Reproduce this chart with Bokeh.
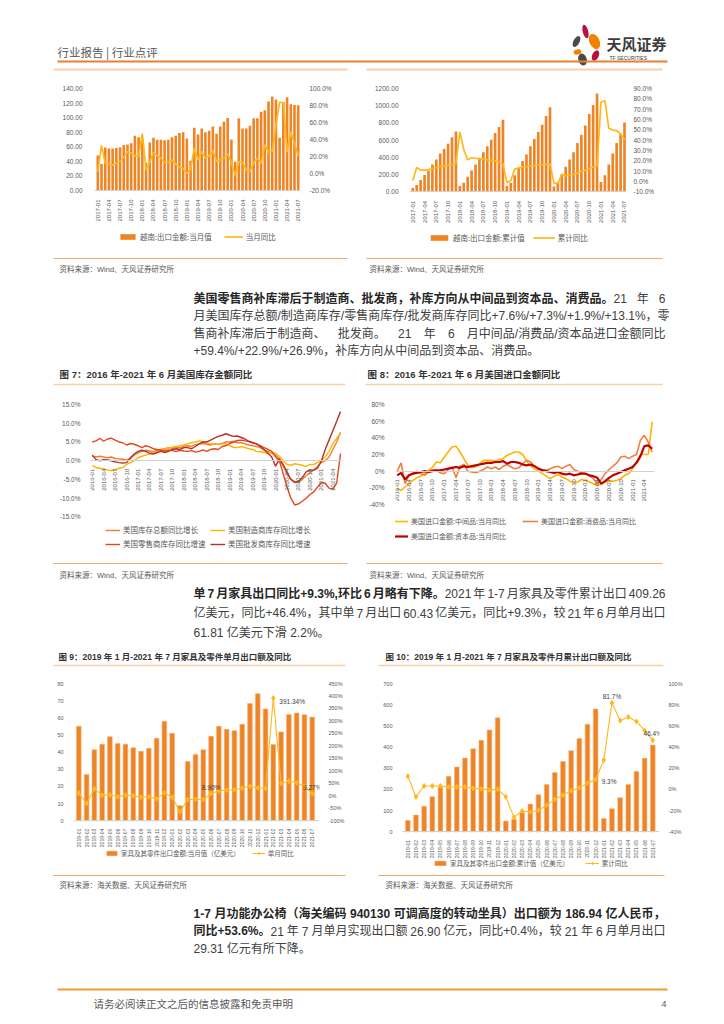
import math
from bokeh.plotting import figure
from bokeh.models import (Range1d, LinearAxis, FixedTicker, Legend, LegendItem,
                          PrintfTickFormatter)
from bokeh.layouts import column, row
from bokeh.embed import file_html
from bokeh.resources import INLINE
from bokeh.core.properties import value

MIX = "Liberation Sans, Noto Sans CJK SC"
CJK = "Noto Sans CJK SC"
GRAY = "#595959"
BAR = "#EF8424"
GOLD = "#FFB81C"

# ------------------------------------------------------------------ data
viet_months = [f"{y}-{m:02d}" for y in range(2017, 2022) for m in range(1, 13)][:55]
viet_month_val = [48, 36.5, 59, 57.5, 57.5, 58.5, 59.5, 62.5, 63, 65, 75, 73,
                  70, 38, 66, 72.5, 69.5, 69.5, 69, 69.5, 73, 75, 79, 80,
                  71.5, 41, 86, 77, 85, 80, 82, 88, 78, 88, 94.5, 99.5,
                  70, 39.5, 99, 85, 85, 89, 99, 99, 108, 110, 122, 129,
                  125, 72.5, 121, 128, 118.5, 117.5, 117]
viet_month_yoy = [2, 33, 12, 11, 10, 12, 14, 19, 26, 24, 21, 20,
                  47, 4, 13, 25, 21, 18, 13, 13, 16, 11, 8, 6,
                  0, 5, 30, 16, 26, 18, 21, 27, 14, 16, 18, 23,
                  13, -2, 14, 13, 4, 2, 13, 18, 12, 34, 25, 26,
                  57, 84, 83, 25, 49, 35, 21]
viet_cum_val = [46, 80, 138, 196, 249, 318, 376, 445, 498, 560, 633, 702,
                69, 107, 176, 249, 318, 395, 460, 529, 606, 683, 752, 836,
                69, 107, 192, 280, 357, 433, 529, 614, 694, 778, 882, 982,
                61, 115, 203, 291, 376, 460, 567, 663, 771, 905, 1008, 1143,
                115, 192, 318, 445, 567, 675, 805]
viet_cum_yoy = [1, 13.5, 11, 11, 11.5, 12.6, 13.5, 14.5, 15.1, 15.8, 16.4, 17.4,
                48, 31, 21, 23, 22.5, 22, 21.5, 21, 20.5, 20, 19, 17,
                -1, 1, 12, 13, 14, 14.5, 15, 15.5, 16, 16, 16.5, 17,
                -1.5, -2, 7, 5.7, 6.3, 7, 8.2, 9.5, 11, 12.6, 13.9, 15.1,
                76.7, 78.2, 51.4, 49.8, 49.2, 46, 40.4]

us_months = [f"{y}-{m:02d}" for y in range(2016, 2022) for m in range(1, 13)][:66]
inv_total = [1.3, 1.0, 1.2, 1.0, 0.8, 1.0, 0.6, 0.5, 0.4, 0.2, 0.5, 1.5,
             2.0, 2.5, 2.8, 2.6, 2.4, 2.8, 3.0, 3.2, 3.5, 3.3, 3.6, 3.5,
             3.8, 4.0, 3.8, 4.3, 4.5, 4.6, 4.4, 4.2, 4.5, 4.4, 4.6, 5.0,
             5.0, 5.2, 4.8, 4.8, 4.5, 4.2, 4.0, 3.8, 3.5, 2.8, 2.5, 2.0,
             1.5, 0.5, -1.5, -3.5, -4.8, -5.6, -5.8, -5.0, -4.0, -3.2, -2.5, -1.5,
             -0.5, 0.0, 1.0, 3.0, 5.0, 7.6]
inv_manu = [-1.3, -1.8, -2.0, -2.2, -2.5, -2.6, -2.4, -2.0, -1.8, -1.0, -0.5, 0.0,
            0.8, 1.2, 1.5, 1.8, 2.2, 2.5, 2.8, 3.0, 3.4, 3.6, 3.8, 4.0,
            4.2, 4.5, 4.8, 5.0, 5.3, 5.0, 4.8, 4.5, 4.5, 4.3, 4.5, 4.5,
            4.0, 3.6, 3.5, 3.8, 3.5, 3.2, 3.0, 2.5, 2.4, 2.2, 2.0, 2.2,
            2.0, 1.2, 0.0, -1.0, -1.2, -0.8, -1.0, -1.2, -1.5, -1.0, -1.0, -0.5,
            0.0, 1.0, 2.5, 4.5, 6.0, 7.3]
inv_retail = [5.0, 5.3, 6.0, 5.2, 5.8, 6.0, 5.5, 5.0, 4.8, 4.2, 4.6, 4.4,
              4.0, 3.5, 4.0, 3.7, 3.2, 3.0, 2.8, 2.6, 2.9, 2.7, 2.5, 2.8,
              2.6, 2.5, 2.7, 2.3, 2.5, 2.9, 2.5, 3.0, 3.2, 3.0, 3.8, 4.0,
              4.6, 5.0, 5.4, 5.5, 5.3, 5.1, 4.8, 4.5, 4.0, 3.5, 3.0, 2.5,
              1.0, 0.0, -3.5, -7.0, -10.0, -11.8, -11.5, -10.8, -10.0, -9.0, -8.3, -7.0,
              -5.8, -6.0, -7.3, -7.6, -6.0, 1.9]
inv_whole = [1.5, 0.3, 0.0, 0.3, 0.2, 0.0, -0.3, -0.5, -0.6, -0.5, 0.8, 1.8,
             2.5, 2.8, 2.5, 2.0, 1.8, 2.2, 2.5, 2.2, 2.5, 3.0, 3.2, 3.0,
             3.5, 3.5, 3.2, 3.8, 4.5, 5.0, 5.0, 5.5, 6.0, 6.5, 6.8, 7.2,
             6.8, 6.5, 6.6, 6.2, 5.8, 5.2, 4.8, 4.5, 3.8, 3.0, 2.0, 1.0,
             -1.5, 0.5, -1.0, -3.0, -5.0, -5.8, -5.5, -4.5, -3.0, -2.5, -2.5, -2.0,
             0.0, 3.0, 5.5, 8.0, 10.5, 13.1]

imp_inter = [-21, -23, -19, -15, -11, -8, -6, -3, 1, 5, 11, 10,
             17, 23, 29, 30, 23, 15, 7, 4, 5, 9, 13, 13,
             13, 12, 14, 15, 19, 21, 23, 23, 20, 12, 6, 3,
             0, -3, -6, -9, -6, -4, -7, -9, -12, -14, -13, -10,
             -11, -13, -15, -17, -16, -13, -12, -12, -11, -9, -5, -3,
             3, 11, 20, 20, 20, 59.4]
imp_cons = [0, 10, -15, -5, -2, 0, -3, -5, -1, 2, 1, -2,
            -3, 2, 5, -8, 6, 8, 0, -1, -2, 0, 2, 5,
            3, 5, 2, 6, 8, 5, 3, 4, 9, 13, 11, 6,
            3, 2, 1, 3, 5, 6, 3, 6, 8, 2, 0, -2,
            -3, -6, -9, -15, -10, -3, 2, 6, 10, 17, 18, 15,
            18, 20, 37, 43, 35, 22.9]
imp_cap = [-5, -2, -10, -5, -3, -2, -1, 0, -1, 0, 1, 1,
           2, 3, 4, 5, 4, 6, 5, 6, 7, 8, 9, 10,
           10, 11, 11, 12, 9, 11, 11, 10, 8, 7, 8, 6,
           3, 1, 0, -1, -2, -1, -3, -4, -3, -5, -4, -3,
           -3, -5, -6, -8, -15, -12, -8, -5, -3, -1, 1, 3,
           5, 10, 18, 30, 31, 26.9]

fur_months = [f"{y}-{m:02d}" for y in range(2019, 2022) for m in range(1, 13)][:31]
fur_month_val = [55.1, 27.0, 41.4, 44.6, 49.0, 45.1, 44.6, 42.6, 40.5, 42.2, 48.1, 58.0,
                 51.0, 8.8, 34.6, 38.7, 41.4, 49.2, 55.1, 53.3, 52.5, 56.2, 68.3, 74.1,
                 65.2, 44.4, 51.8, 61.9, 62.8, 61.81, 60.43]
fur_month_yoy = [10.7, -30.7, 28.1, 2.7, 4.0, -4.0, 2.7, 0.0, -5.3, -4.0, -12.0, 12.0,
                 -5.3, -64.2, -14.7, -13.4, -14.7, 8.9, 20.1, 22.7, 24.1, 30.7, 38.8, 32.1,
                 29.4, 391.34, 49.5, 58.8, 52.1, 38.8, 9.27]
fur_cum_val = [54, 79, 121, 166, 212, 262, 306, 348, 392, 432, 481, 538,
               51, 60, 91, 131, 175, 224, 280, 332, 383, 440, 508, 580,
               63, 109, 161, 224, 285, 347, 409.26]
fur_cum_yoy = [12.5, -6.9, 3.3, 3.3, 3.3, 2.4, 2.4, 2.4, 1.2, 0.6, -0.6, 0.3,
               -6.9, -26.3, -20.3, -21.2, -19.7, -14.9, -9.3, -5.4, -1.2, 1.5, 6.0, 9.3,
               27.8, 81.7, 65.1, 68.4, 64.2, 55.5, 46.4]
fur_month_label_idx = [25, 17, 30]
fur_month_label_txt = ["391.34%", "8.90%", "9.27%"]
fur_cum_label_idx = [25, 23, 30]
fur_cum_label_txt = ["81.7%", "9.3%", "46.4%"]


# ------------------------------------------------------------------ helpers
def xr_calc(X0, X1, n_last, fl, fr):
    per = n_last / (X1 - X0)
    return (-(X0 - fl) * per, n_last + (fr - X1) * per)


def yr_calc(v_top, top, v_ref, y_ref, bottom):
    per = (v_top - v_ref) / (y_ref - top)
    return (v_top - per * (bottom - top), v_top)


def chart(fx0, fx1, fy0, fy1, fl, fr, ft, xr, yl, ypct=None):
    p = figure(width=fx1 - fx0, height=fy1 - fy0, x_range=Range1d(*xr), y_range=Range1d(*yl),
               output_backend="svg", toolbar_location=None,
               min_border_left=fl - fx0, min_border_right=fx1 - fr,
               min_border_top=ft - fy0, min_border_bottom=0)
    p.outline_line_color = None
    p.grid.visible = False
    if ypct is not None:
        p.extra_y_ranges = {"pct": Range1d(*ypct)}
    return p


def style_axis(ax, size, standoff, ticks, fmt=None, overrides=None):
    ax.ticker = FixedTicker(ticks=ticks)
    if fmt:
        ax.formatter = PrintfTickFormatter(format=fmt)
    if overrides:
        ax.major_label_overrides = overrides
    ax.axis_line_color = None
    ax.major_tick_line_color = None
    ax.minor_tick_line_color = None
    ax.major_label_text_font = MIX
    ax.major_label_text_font_size = f"{size}px"
    ax.major_label_text_color = GRAY
    ax.major_label_standoff = standoff


def x_axis(p, months, step, size, standoff):
    ax = p.xaxis[0]
    ticks = list(range(0, len(months), step))
    style_axis(ax, size, standoff, ticks, overrides={i: months[i] for i in ticks})
    ax.fixed_location = 0
    ax.major_label_orientation = math.pi / 2
    ax.axis_line_color = "#D0D0D0"
    ax.axis_line_width = 1


def right_axis(p, size, standoff, ticks, fmt):
    ax = LinearAxis(y_range_name="pct")
    style_axis(ax, size, standoff, ticks, fmt)
    p.add_layout(ax, "right")


def add_legend(p, items, loc, font_size, **kw):
    lg = Legend(items=[LegendItem(label=l, renderers=r) for l, r in items], location=loc,
                orientation="horizontal", background_fill_alpha=0, border_line_alpha=0,
                padding=0, margin=0, label_text_font=CJK,
                label_text_font_size=f"{font_size}px", label_text_color=GRAY, **kw)
    p.add_layout(lg)


def band(y0, y1):
    p = figure(width=716, height=y1 - y0, x_range=Range1d(0, 716), y_range=Range1d(y1, y0),
               x_axis_type=None, y_axis_type=None, output_backend="svg",
               toolbar_location=None, min_border=0)
    p.outline_line_color = None
    return p


def txt(p, x, y, s, size, color="#404040", bold=False, align="left", font=MIX):
    p.text(x=[x], y=[y], text=[s], text_font=value(font), text_font_size=f"{size}px",
           text_font_style="bold" if bold else "normal", text_color=color,
           text_align=align, text_baseline="middle")


def hline(p, x0, x1, y, color, w):
    p.line(x=[x0, x1], y=[y, y], line_color=color, line_width=w)


ORANGE = "#EE7F2D"
LIGHT = "#F9CFA9"
SRC = "#F4A766"
BODY = "#404040"
BOLD = "#262626"
NARROW = {"%": 0.889, "+": 0.584, ".": 0.278, ",": 0.278, "/": 0.278, "-": 0.333,
          " ": 0.278, ":": 0.278}


def char_w(c, fs):
    if ord(c) >= 0x2E80:
        return fs
    if c.isdigit():
        return 0.556 * fs
    if c in NARROW:
        return NARROW[c] * fs
    if c.isupper():
        return 0.667 * fs
    return 0.556 * fs


def run_w(t, fs):
    return sum(char_w(c, fs) for c in t)


def build_words(runs, punct):
    words = [[]]
    for t, b in runs:
        cur = ""
        for c in t:
            if c == " ":
                if cur:
                    words[-1].append((cur, b))
                    cur = ""
                words.append([])
            else:
                cur += c
                if punct and c in "、，。":
                    words[-1].append((cur, b))
                    cur = ""
                    words.append([])
        if cur:
            words[-1].append((cur, b))
    return [w for w in words if w]


def para_line(p, y, runs, justify=True, x0=193, x1=665, fs=12):
    words = build_words(runs, False)
    widths = [sum(run_w(t, fs) for t, b in w) for w in words]
    n = len(words)
    gap = 0.278 * fs
    if justify and n > 1:
        gap = (x1 - x0 - sum(widths)) / (n - 1)
        if gap > 11:
            words = build_words(runs, True)
            widths = [sum(run_w(t, fs) for t, b in w) for w in words]
            n = len(words)
            gap = (x1 - x0 - sum(widths)) / (n - 1)
    x = x0
    for k, w in enumerate(words):
        if justify and n > 1 and k == n - 1:
            xr = x1
            for t, b in reversed(w):
                txt(p, xr, y, t, fs, BOLD if b else BODY, b, align="right")
                xr -= run_w(t, fs)
        else:
            xx = x
            for t, b in w:
                txt(p, xx, y, t, fs, BOLD if b else BODY, b)
                xx += run_w(t, fs)
        x += widths[k] + gap


# ------------------------------------------------------------------ chart 1
fl, fr, ft = 94, 300, 88
p1 = chart(0, 356, 72, 252, fl, fr, ft, xr_calc(97.3, 297.7, 54, fl, fr),
           yr_calc(140, ft, 0, 190, 252), yr_calc(100, ft, -20, 190, 252))
i1 = list(range(len(viet_month_val)))
b1 = p1.vbar(x=i1, top=viet_month_val, width=0.7, fill_color=BAR, line_color=None)
l1 = p1.line(x=i1, y=viet_month_yoy, y_range_name="pct", line_color=GOLD, line_width=1.7)
style_axis(p1.yaxis[0], 6.5, 6, list(range(0, 141, 20)), "%.2f")
right_axis(p1, 6.5, 3, list(range(-20, 101, 20)), "%.1f%%")
x_axis(p1, viet_months, 3, 6, 3)
add_legend(p1, [("越南:出口金额:当月值", [b1]), ("当月同比", [l1])], (24, 10), 7.5,
           glyph_width=19, glyph_height=7, label_height=7, spacing=12, label_standoff=3)

# ------------------------------------------------------------------ chart 2
fl, fr, ft = 409, 626, 87
p2 = chart(356, 716, 72, 252, fl, fr, ft, xr_calc(412.3, 624, 54, fl, fr),
           yr_calc(1200, ft, 0, 191, 252), yr_calc(90, ft, -10, 191, 252))
i2 = list(range(len(viet_cum_val)))
b2 = p2.vbar(x=i2, top=viet_cum_val, width=0.68, fill_color=BAR, line_color=None)
l2 = p2.line(x=i2, y=viet_cum_yoy, y_range_name="pct", line_color=GOLD, line_width=1.7)
style_axis(p2.yaxis[0], 6.5, 5, list(range(0, 1201, 200)), "%.2f")
right_axis(p2, 6.5, 1, list(range(-10, 91, 10)), "%.1f%%")
x_axis(p2, viet_months, 3, 6, 3)
add_legend(p2, [("越南:出口金额:累计值", [b2]), ("累计同比", [l2])], (19, 9.5), 7.5,
           glyph_width=22, glyph_height=7, label_height=7, spacing=8, label_standoff=3)

# ------------------------------------------------------------------ chart 7
fl, fr, ft = 90, 342, 396
p7 = chart(0, 356, 386, 558, fl, fr, ft, xr_calc(91.7, 340, 65, fl, fr),
           yr_calc(15, ft, -15, 514.3, 558))
i7 = list(range(len(inv_total)))
r7a = p7.line(x=i7, y=inv_total, line_color="#ED7D31", line_width=1.4)
r7b = p7.line(x=i7, y=inv_manu, line_color="#FFB400", line_width=1.4)
r7c = p7.line(x=i7, y=inv_retail, line_color="#E4471E", line_width=1.4)
r7d = p7.line(x=i7, y=inv_whole, line_color="#B8302A", line_width=1.4)
style_axis(p7.yaxis[0], 6.5, 4, list(range(-15, 16, 5)), "%.1f%%")
x_axis(p7, us_months, 3, 6, 2)
add_legend(p7, [("美国库存总额同比增长", [r7a]), ("美国制造商库存同比增长", [r7b]),
                ("美国零售商库存同比增速", [r7c]), ("美国批发商库存同比增速", [r7d])],
           (15, 9), 7.5, ncols=2, glyph_width=15, glyph_height=10, label_height=10,
           label_width=84, spacing=3, label_standoff=3)

# ------------------------------------------------------------------ chart 8
fl, fr, ft = 395, 654, 404
p8 = chart(356, 716, 386, 558, fl, fr, ft, xr_calc(396.7, 651.7, 65, fl, fr),
           yr_calc(80, ft, -40, 504, 558))
i8 = list(range(len(imp_inter)))
r8a = p8.line(x=i8, y=imp_inter, line_color="#FFB400", line_width=1.6)
r8b = p8.line(x=i8, y=imp_cons, line_color="#F08040", line_width=1.6)
r8c = p8.line(x=i8, y=imp_cap, line_color="#C00000", line_width=2.2)
style_axis(p8.yaxis[0], 6.5, 5, list(range(-40, 81, 20)), "%d%%")
x_axis(p8, us_months, 3, 6, 2)
add_legend(p8, [("美国进口金额:中间品:当月同比", [r8a]), ("美国进口金额:消费品:当月同比", [r8b]),
                ("美国进口金额:资本品:当月同比", [r8c])],
           (-3, 16), 7, ncols=2, glyph_width=16, glyph_height=12, label_height=12,
           label_width=108, spacing=3, label_standoff=3)

# ------------------------------------------------------------------ chart 9
fl, fr, ft = 73, 319, 683
p9 = chart(0, 360, 667, 870, fl, fr, ft, xr_calc(78.3, 311.7, 30, fl, fr),
           yr_calc(80, ft, 0, 820.3, 870), yr_calc(450, ft, -100, 820.3, 870))
i9 = list(range(len(fur_month_val)))
b9 = p9.vbar(x=i9, top=fur_month_val, width=0.6, fill_color=BAR, line_color="#F7B07A", line_width=0.6)
l9 = p9.line(x=i9, y=fur_month_yoy, y_range_name="pct", line_color=GOLD, line_width=1.1)
s9 = p9.scatter(x=i9, y=fur_month_yoy, y_range_name="pct", marker="diamond", size=5,
                fill_color=GOLD, line_color=GOLD)
style_axis(p9.yaxis[0], 5.5, 4, list(range(0, 81, 10)), "%d")
right_axis(p9, 5.5, 3, list(range(-100, 451, 50)), "%d%%")
x_axis(p9, fur_months, 1, 5, 2)
lab_style = dict(y_range_name="pct", text_font=value(MIX), text_font_size="6.5px", text_color="#404040")
k = fur_month_label_idx
p9.text(x=[k[0]], y=[fur_month_yoy[k[0]]], text=[fur_month_label_txt[0]], x_offset=6,
        y_offset=3, text_align="left", text_baseline="middle", **lab_style)
p9.text(x=[k[1], k[2]], y=[fur_month_yoy[k[1]], fur_month_yoy[k[2]]],
        text=[fur_month_label_txt[1], fur_month_label_txt[2]], y_offset=-3,
        text_align="center", text_baseline="bottom", **lab_style)
add_legend(p9, [("家具及其零件出口金额:当月值（亿美元）", [b9]), ("单月同比", [l9, s9])], (32, 12), 6.5,
           glyph_width=13, glyph_height=6, label_height=6, spacing=12, label_standoff=3)

# ------------------------------------------------------------------ chart 10
fl, fr, ft = 402, 659, 673
p10 = chart(360, 716, 667, 870, fl, fr, ft, xr_calc(407.3, 652.3, 30, fl, fr),
            yr_calc(700, ft, 0, 829.3, 870), yr_calc(100, ft, -40, 829.3, 870))
i10 = list(range(len(fur_cum_val)))
b10 = p10.vbar(x=i10, top=fur_cum_val, width=0.57, fill_color=BAR, line_color="#F7B07A", line_width=0.6)
l10 = p10.line(x=i10, y=fur_cum_yoy, y_range_name="pct", line_color=GOLD, line_width=1.1)
s10 = p10.scatter(x=i10, y=fur_cum_yoy, y_range_name="pct", marker="diamond", size=5,
                  fill_color=GOLD, line_color=GOLD)
style_axis(p10.yaxis[0], 5.5, 4, list(range(0, 701, 100)), "%d")
right_axis(p10, 5.5, 3, list(range(-40, 101, 20)), "%d%%")
x_axis(p10, fur_months, 1, 5, 2)
k = fur_cum_label_idx
p10.text(x=[k[0], k[2]], y=[fur_cum_yoy[k[0]], fur_cum_yoy[k[2]]],
         text=[fur_cum_label_txt[0], fur_cum_label_txt[2]], y_offset=-3,
         text_align="center", text_baseline="bottom", **lab_style)
p10.text(x=[k[1]], y=[fur_cum_yoy[k[1]]], text=[fur_cum_label_txt[1]], x_offset=6, y_offset=2,
         text_align="left", text_baseline="middle", **lab_style)
add_legend(p10, [("家具及其零件出口金额:累计值（亿美元）", [b10]), ("累计同比", [l10, s10])], (31, 2), 6.5,
           glyph_width=14, glyph_height=6, label_height=6, spacing=16, label_standoff=3)

# ------------------------------------------------------------------ text bands
bA = band(0, 72)
txt(bA, 57, 51, "行业报告  |  行业点评", 11.5, color="#555555", font=CJK)
bA.ellipse(x=[585, 576, 594, 577, 595, 582], y=[31, 41, 41, 51.5, 55, 59],
           width=[5.5, 6, 10, 8, 6.5, 8.5], height=[14, 12, 16, 5, 11, 12],
           angle=[0.25, -0.5, 0.45, 0.2, -0.45, 0.3],
           fill_color=["#B5123E", "#4A4A4A", "#F08300", "#F08300", "#B5123E", "#4A4A4A"],
           line_color=None)
txt(bA, 606, 43, "天风证券", 15, color="#3C3C3C", bold=True, font=CJK)
txt(bA, 609, 57, "TF SECURITIES", 5, color="#3C3C3C")
hline(bA, 57, 667, 61, ORANGE, 2)
hline(bA, 53, 347, 69, LIGHT, 2)
hline(bA, 366, 662, 69, LIGHT, 2)

bC = band(252, 386)
hline(bC, 53, 347, 258, SRC, 1)
hline(bC, 366, 662, 258, SRC, 1)
txt(bC, 59, 269, "资料来源：Wind、天风证券研究所", 7.5, color=GRAY)
txt(bC, 369, 269, "资料来源：Wind、天风证券研究所", 7.5, color=GRAY)
para_line(bC, 298, [("美国零售商补库滞后于制造商、批发商，补库方向从中间品到资本品、消费品。", True),
                    ("21 年 6", False)])
para_line(bC, 315.5, [("月美国库存总额/制造商库存/零售商库存/批发商库存同比+7.6%/+7.3%/+1.9%/+13.1%，零", False)])
para_line(bC, 333, [("售商补库滞后于制造商、批发商。21 年 6 月中间品/消费品/资本品进口金额同比", False)])
para_line(bC, 350.5, [("+59.4%/+22.9%/+26.9%，补库方向从中间品到资本品、消费品。", False)], justify=False)
txt(bC, 59, 374, "图 7：2016 年-2021 年 6 月美国库存金额同比", 9.5, "#333333", True)
txt(bC, 367, 374, "图 8：2016 年-2021 年 6 月美国进口金额同比", 9.5, "#333333", True)
hline(bC, 53, 345, 384, LIGHT, 1.5)
hline(bC, 365, 662, 384, LIGHT, 1.5)

bE = band(558, 667)
hline(bE, 53, 347, 563, SRC, 1)
hline(bE, 366, 662, 563, SRC, 1)
txt(bE, 59, 575, "资料来源：Wind、天风证券研究所", 7.5, color=GRAY)
txt(bE, 369, 575, "资料来源：Wind、天风证券研究所", 7.5, color=GRAY)
para_line(bE, 593, [("单 7 月家具出口同比+9.3%,环比 6 月略有下降。", True),
                    ("2021 年 1-7 月家具及零件累计出口 409.26", False)])
para_line(bE, 612.5, [("亿美元，同比+46.4%，其中单 7 月出口 60.43 亿美元，同比+9.3%，较 21 年 6 月单月出口", False)])
para_line(bE, 632, [("61.81 亿美元下滑 2.2%。", False)], justify=False)
txt(bE, 58, 656, "图 9：2019 年 1 月-2021 年 7 月家具及零件单月出口额及同比", 8.5, "#333333", True)
txt(bE, 385, 656, "图 10：2019 年 1 月-2021 年 7 月家具及零件月累计出口额及同比", 8.5, "#333333", True)
hline(bE, 53, 345, 665, LIGHT, 1.5)
hline(bE, 378, 663, 665, LIGHT, 1.5)

bG = band(870, 1014)
hline(bG, 53, 345, 875, SRC, 1)
hline(bG, 378, 664, 875, SRC, 1)
txt(bG, 59, 885, "资料来源：海关数据、天风证券研究所", 7.5, color=GRAY)
txt(bG, 385, 885, "资料来源：海关数据、天风证券研究所", 7.5, color=GRAY)
para_line(bG, 913, [("1-7 月功能办公椅（海关编码 940130 可调高度的转动坐具）出口额为 186.94 亿人民币，", True)])
para_line(bG, 930.5, [("同比+53.6%。", True),
                      ("21 年 7 月单月实现出口额 26.90 亿元，同比+0.4%，较 21 年 6 月单月出口", False)])
para_line(bG, 948, [("29.31 亿元有所下降。", False)], justify=False)
hline(bG, 57, 667, 989, "#EE9B2D", 2)
txt(bG, 93, 1003, "请务必阅读正文之后的信息披露和免责申明", 10.5, color=GRAY, font=CJK)
txt(bG, 661, 1003, "4", 9, color=GRAY)

page = column(bA, row(p1, p2, spacing=0), bC, row(p7, p8, spacing=0), bE,
              row(p9, p10, spacing=0), bG, spacing=0)
open("out.html", "w").write(file_html(page, INLINE, "行业点评"))
